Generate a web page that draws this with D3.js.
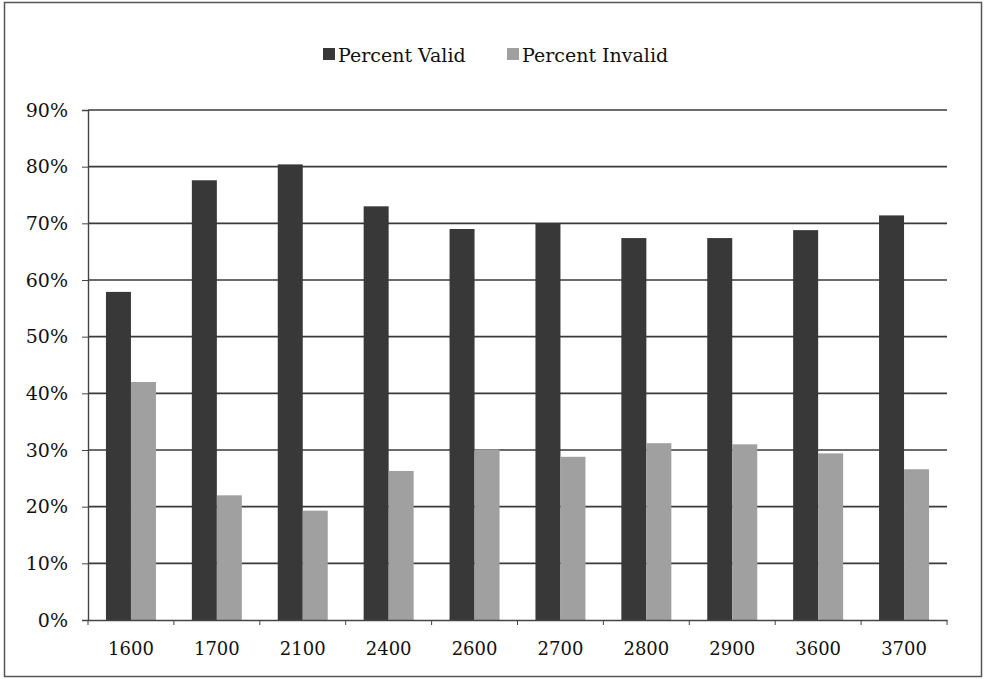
<!DOCTYPE html>
<html>
<head>
<meta charset="utf-8">
<script src="https://cdn.jsdelivr.net/npm/d3@7"></script>
<style>
  body { margin: 0; background: #fff; }
  text { font-family: "DejaVu Serif", "Liberation Serif", serif; fill: #111; }
</style>
</head>
<body>
<div id="chart"></div>
<script>
const categories = ['1600', '1700', '2100', '2400', '2600', '2700', '2800', '2900', '3600', '3700'];
const percentValid = [0.579, 0.776, 0.804, 0.730, 0.690, 0.700, 0.674, 0.674, 0.688, 0.714];
const percentInvalid = [0.420, 0.220, 0.193, 0.263, 0.301, 0.288, 0.312, 0.310, 0.294, 0.266];
const seriesNames = ['Percent Valid', 'Percent Invalid'];
const yTicks = [0, 0.1, 0.2, 0.3, 0.4, 0.5, 0.6, 0.7, 0.8, 0.9];

const width = 986;
const height = 679;
const margin = { top: 110, bottom: 59, left: 88, right: 39 };
const colors = ['#383838', '#a0a0a0'];

const data = categories.map((c, i) => ({ cat: c, values: [percentValid[i], percentInvalid[i]] }));

const svg = d3.select('#chart')
    .append('svg')
    .attr('width', width)
    .attr('height', height);

// outer frame
svg.append('rect')
    .attr('x', 4.5).attr('y', 2.5)
    .attr('width', 977).attr('height', 674)
    .attr('fill', 'none')
    .attr('stroke', '#555')
    .attr('stroke-width', 1.5);

const x0 = d3.scaleBand()
    .domain(categories)
    .range([margin.left, width - margin.right])
    .padding(0);

const x1 = d3.scaleBand()
    .domain([0, 1])
    .range([x0.bandwidth() / 2 - 25, x0.bandwidth() / 2 + 25]);

const y = d3.scaleLinear()
    .domain([0, 0.9])
    .range([height - margin.bottom, margin.top]);

// gridlines
svg.append('g')
    .selectAll('line')
    .data(yTicks.slice(1))
    .join('line')
        .attr('x1', margin.left)
        .attr('x2', width - margin.right)
        .attr('y1', d => y(d))
        .attr('y2', d => y(d))
        .attr('stroke', '#3a3a3a')
        .attr('stroke-width', 1.6);

// bars
svg.append('g')
    .selectAll('g')
    .data(data)
    .join('g')
        .attr('transform', d => `translate(${x0(d.cat)},0)`)
    .selectAll('rect')
    .data(d => d.values)
    .join('rect')
        .attr('x', (d, i) => x1(i))
        .attr('y', d => y(d))
        .attr('width', x1.bandwidth())
        .attr('height', d => y(0) - y(d))
        .attr('fill', (d, i) => colors[i]);

function yAxis(g) {
    g.attr('transform', `translate(${margin.left},0)`)
        .call(d3.axisLeft(y).tickValues(yTicks).tickFormat(d3.format('.0%')).tickSize(6).tickPadding(14))
        .call(g => g.select('.domain').attr('stroke', '#444').attr('stroke-width', 1.4))
        .call(g => g.selectAll('.tick line').attr('stroke', '#444'))
        .call(g => g.selectAll('.tick text').attr('font-size', 19).attr('font-family', '"DejaVu Serif", serif').attr('fill', '#111'));
}

function xAxis(g) {
    g.attr('transform', `translate(0,${height - margin.bottom})`)
        .call(d3.axisBottom(x0).tickSize(0).tickPadding(22))
        .call(g => g.select('.domain').attr('stroke', '#444').attr('stroke-width', 1.6))
        .call(g => g.selectAll('.tick text').attr('font-size', 18).attr('font-family', '"DejaVu Serif", serif').attr('fill', '#111'));
    // boundary ticks between categories
    g.append('g')
        .selectAll('line')
        .data(categories.concat(['end']))
        .join('line')
            .attr('x1', (d, i) => i < categories.length ? x0(d) : x0.range()[1])
            .attr('x2', (d, i) => i < categories.length ? x0(d) : x0.range()[1])
            .attr('y1', 0)
            .attr('y2', 5)
            .attr('stroke', '#444');
}

svg.append('g').call(yAxis);
svg.append('g').call(xAxis);

// legend
const legend = svg.append('g').attr('transform', 'translate(323,0)');
const legendX = [0, 184];
seriesNames.forEach((name, i) => {
    legend.append('rect')
        .attr('x', legendX[i]).attr('y', 48)
        .attr('width', 12).attr('height', 12)
        .attr('fill', colors[i]);
    legend.append('text')
        .attr('x', legendX[i] + 15).attr('y', 62)
        .attr('font-size', 19)
        .text(name);
});
</script>
</body>
</html>
